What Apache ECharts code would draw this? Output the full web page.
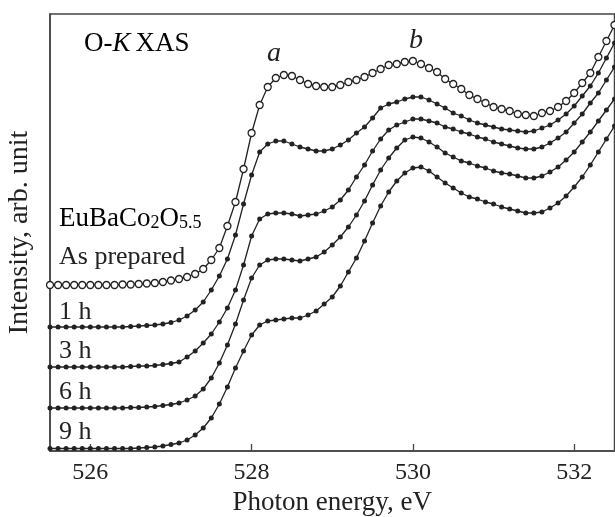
<!DOCTYPE html>
<html>
<head>
<meta charset="utf-8">
<script src="https://cdn.jsdelivr.net/npm/echarts@6/dist/echarts.min.js"></script>
<style>
  html, body { margin: 0; padding: 0; background: #fff; }
  #chart { width: 615px; height: 517px; }
</style>
</head>
<body>
<div id="chart"></div>
<script>
// Photon energy grid, eV
const energies = [
  525.5, 525.6, 525.7, 525.8, 525.9, 526.0, 526.1, 526.2, 526.3, 526.4,
  526.5, 526.6, 526.7, 526.8, 526.9, 527.0, 527.1, 527.2, 527.3, 527.4,
  527.5, 527.6, 527.7, 527.8, 527.9, 528.0, 528.1, 528.2, 528.3, 528.4,
  528.5, 528.6, 528.7, 528.8, 528.9, 529.0, 529.1, 529.2, 529.3, 529.4,
  529.5, 529.6, 529.7, 529.8, 529.9, 530.0, 530.1, 530.2, 530.3, 530.4,
  530.5, 530.6, 530.7, 530.8, 530.9, 531.0, 531.1, 531.2, 531.3, 531.4,
  531.5, 531.6, 531.7, 531.8, 531.9, 532.0, 532.1, 532.2, 532.3, 532.4,
  532.5
];

// O K-edge spectra (arb. units, vertically offset)
const asPrepared = [
  1.66, 1.66, 1.66, 1.66, 1.66, 1.66, 1.66, 1.66, 1.66, 1.665,
  1.665, 1.67, 1.675, 1.68, 1.69, 1.705, 1.72, 1.74, 1.77, 1.82,
  1.91, 2.03, 2.25, 2.49, 2.82, 3.18, 3.46, 3.64, 3.73, 3.76,
  3.75, 3.71, 3.67, 3.65, 3.64, 3.64, 3.66, 3.69, 3.71, 3.74,
  3.78, 3.82, 3.86, 3.87, 3.89, 3.90, 3.87, 3.83, 3.79, 3.72,
  3.67, 3.62, 3.56, 3.52, 3.48, 3.44, 3.42, 3.40, 3.37, 3.36,
  3.35, 3.38, 3.40, 3.44, 3.50, 3.58, 3.68, 3.78, 3.94, 4.10,
  4.26
];
const after1h = [
  1.24, 1.24, 1.24, 1.24, 1.24, 1.24, 1.24, 1.24, 1.24, 1.24,
  1.245, 1.25, 1.255, 1.26, 1.27, 1.285, 1.31, 1.35, 1.41, 1.49,
  1.61, 1.75, 1.92, 2.16, 2.47, 2.76, 2.99, 3.07, 3.10, 3.10,
  3.07, 3.04, 3.02, 3.00, 3.00, 3.02, 3.06, 3.11, 3.18, 3.24,
  3.33, 3.43, 3.47, 3.49, 3.52, 3.54, 3.54, 3.51, 3.47, 3.43,
  3.38, 3.35, 3.31, 3.28, 3.26, 3.24, 3.22, 3.21, 3.20, 3.19,
  3.20, 3.23, 3.26, 3.31, 3.37, 3.45, 3.55, 3.65, 3.78, 3.93,
  4.08
];
const after3h = [
  0.84, 0.84, 0.84, 0.84, 0.84, 0.84, 0.84, 0.84, 0.84, 0.84,
  0.845, 0.85, 0.85, 0.855, 0.865, 0.875, 0.89, 0.94, 1.00, 1.08,
  1.17, 1.29, 1.43, 1.61, 1.86, 2.15, 2.32, 2.37, 2.38, 2.38,
  2.37, 2.35, 2.36, 2.37, 2.40, 2.44, 2.51, 2.61, 2.74, 2.86,
  3.00, 3.12, 3.21, 3.26, 3.29, 3.32, 3.32, 3.30, 3.28, 3.24,
  3.22, 3.19, 3.17, 3.14, 3.12, 3.09, 3.07, 3.05, 3.03, 3.02,
  3.02, 3.04, 3.08, 3.13, 3.19, 3.28, 3.37, 3.48, 3.58, 3.71,
  3.84
];
const after6h = [
  0.43, 0.43, 0.43, 0.43, 0.43, 0.43, 0.43, 0.43, 0.43, 0.43,
  0.435, 0.435, 0.44, 0.445, 0.455, 0.465, 0.48, 0.51, 0.55, 0.62,
  0.73, 0.88, 1.06, 1.27, 1.51, 1.73, 1.86, 1.91, 1.92, 1.92,
  1.91, 1.90, 1.92, 1.94, 1.99, 2.06, 2.14, 2.24, 2.36, 2.50,
  2.66, 2.81, 2.93, 3.03, 3.11, 3.14, 3.13, 3.09, 3.04, 2.98,
  2.94, 2.90, 2.88, 2.85, 2.83, 2.80, 2.78, 2.77, 2.75, 2.73,
  2.73, 2.75, 2.79, 2.84, 2.91, 2.99, 3.09, 3.19, 3.30, 3.41,
  3.52
];
const after9h = [
  0.025, 0.025, 0.025, 0.025, 0.025, 0.025, 0.025, 0.025, 0.025, 0.025,
  0.025, 0.03, 0.035, 0.04, 0.05, 0.065, 0.08, 0.11, 0.16, 0.23,
  0.33, 0.47, 0.64, 0.83, 1.00, 1.16, 1.26, 1.30, 1.31, 1.32,
  1.33, 1.33, 1.36, 1.40, 1.47, 1.54, 1.65, 1.79, 1.93, 2.10,
  2.28, 2.45, 2.59, 2.70, 2.78, 2.83, 2.84, 2.80, 2.74, 2.68,
  2.63, 2.58, 2.54, 2.52, 2.49, 2.47, 2.44, 2.42, 2.40, 2.38,
  2.38, 2.39, 2.43, 2.48, 2.55, 2.64, 2.74, 2.86, 2.99, 3.12,
  3.25
];

const xTicks = [526, 528, 530, 532];

const INK = '#222';
const FONT = '"Liberation Serif", "DejaVu Serif", serif';

function pairs(vals) { return energies.map((e, i) => [e, vals[i]]); }

function filledSeries(name, vals) {
  return {
    name, type: 'line', data: pairs(vals),
    symbol: 'circle', symbolSize: 5, showAllSymbol: true,
    lineStyle: { color: INK, width: 1.3 },
    itemStyle: { color: INK },
    silent: true
  };
}

const chart = echarts.init(document.getElementById('chart'), null, { renderer: 'canvas' });

const norm = { fontSize: 27, lineHeight: 30, fontFamily: FONT, color: INK, verticalAlign: 'bottom' };
const sub = { fontSize: 18, lineHeight: 18, padding: [13, 0, 0, 0], fontFamily: FONT, color: INK, verticalAlign: 'bottom' };

function label(x, y, text, opts) {
  const o = Object.assign({ size: 26, italic: false, align: 'left' }, opts || {});
  return {
    type: 'text', x, y, silent: true,
    style: {
      text, font: (o.italic ? 'italic ' : '') + o.size + 'px ' + FONT,
      fill: INK, align: o.align, verticalAlign: 'middle'
    }
  };
}

chart.setOption({
  animation: false,
  backgroundColor: '#fff',
  grid: {
    left: 50, top: 14, right: 0.5, bottom: 66,
    outerBoundsMode: 'none',
    show: true, borderColor: '#444', borderWidth: 1.5, backgroundColor: 'transparent'
  },
  xAxis: {
    type: 'value', min: 525.5, max: 532.5,
    name: 'Photon energy, eV', nameLocation: 'middle', nameGap: 38,
    nameTextStyle: { fontFamily: FONT, fontSize: 27, color: INK },
    axisLine: { show: true, lineStyle: { color: '#444', width: 1.5 } },
    axisTick: { show: true, inside: true, length: 7, customValues: xTicks, lineStyle: { color: '#444', width: 1.3 } },
    axisLabel: { customValues: xTicks, fontFamily: FONT, fontSize: 24, color: INK, margin: 10 },
    splitLine: { show: false }
  },
  yAxis: {
    type: 'value', min: 0, max: 4.37,
    name: 'Intensity, arb. unit', nameLocation: 'middle', nameGap: 16, nameRotate: 90,
    nameTextStyle: { fontFamily: FONT, fontSize: 28, color: INK },
    axisLine: { show: true, lineStyle: { color: '#444', width: 1.5 } },
    axisTick: { show: false }, axisLabel: { show: false }, splitLine: { show: false }
  },
  series: [
    {
      name: 'As prepared', type: 'line', data: pairs(asPrepared),
      symbol: 'circle', symbolSize: 7, showAllSymbol: true,
      lineStyle: { color: INK, width: 1.3 },
      itemStyle: { color: '#fff', borderColor: INK, borderWidth: 1.3 },
      silent: true
    },
    filledSeries('1 h', after1h),
    filledSeries('3 h', after3h),
    filledSeries('6 h', after6h),
    filledSeries('9 h', after9h)
  ],
  graphic: [
    {
      type: 'text', x: 84, y: 42, silent: true,
      style: {
        text: '{n|O-}{i|K}{n|XAS}', align: 'left', verticalAlign: 'middle',
        rich: { n: norm, i: Object.assign({}, norm, { fontStyle: 'italic', padding: [0, 5, 0, 0] }) }
      }
    },
    label(274, 54, 'a', { italic: true, size: 28, align: 'center' }),
    label(416, 41, 'b', { italic: true, size: 28, align: 'center' }),
    {
      type: 'text', x: 59, y: 217, silent: true,
      style: {
        text: '{n|EuBaCo}{s|2}{n|O}{s|5.5}', align: 'left', verticalAlign: 'middle',
        rich: { n: norm, s: sub }
      }
    },
    label(59, 257, 'As prepared'),
    label(59, 312, '1 h'),
    label(59, 351, '3 h'),
    label(59, 392, '6 h'),
    label(59, 432, '9 h')
  ]
});
</script>
</body>
</html>
